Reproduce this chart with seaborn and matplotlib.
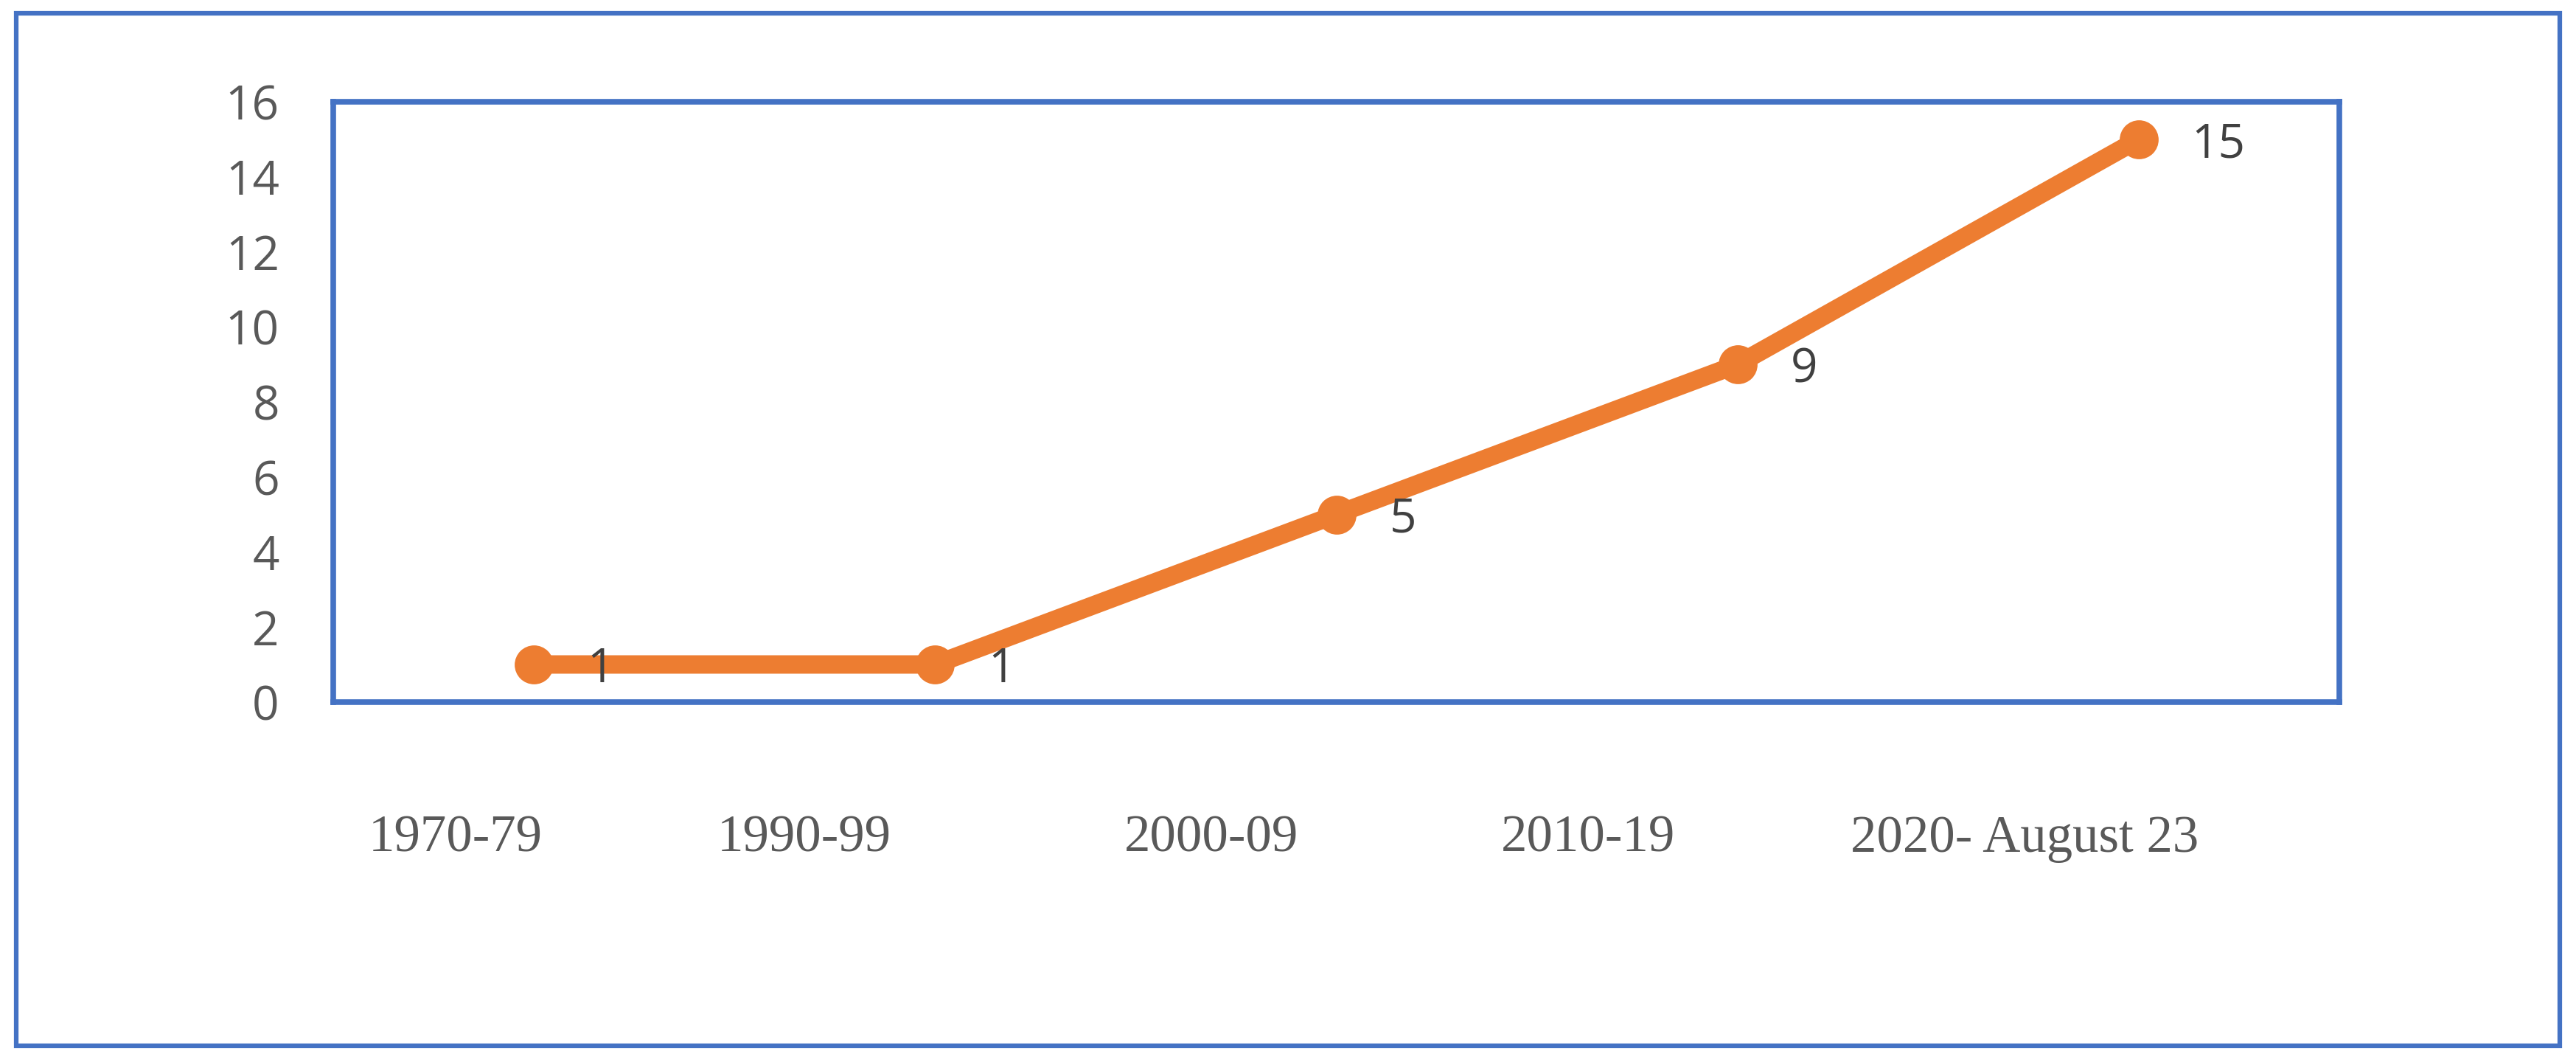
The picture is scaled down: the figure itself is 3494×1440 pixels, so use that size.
import matplotlib
matplotlib.use("Agg")
import matplotlib.pyplot as plt
import matplotlib.transforms as mtransforms
from matplotlib.patches import Rectangle
import pandas as pd
import seaborn as sns

periods = ["1970-79", "1990-99", "2000-09", "2010-19", "2020- August 23"]
counts = [1, 1, 5, 9, 15]
y_ticks = [0, 2, 4, 6, 8, 10, 12, 14, 16]

BLUE = "#4472C4"
ORANGE = "#ED7D31"

sns.set_theme(style="white")
plt.rcParams["font.family"] = ["Open Sans", "DejaVu Sans"]


def draw_chart(out_file="out.png"):
    df = pd.DataFrame({"pos": range(len(periods)), "count": counts})

    fig = plt.figure(figsize=(34.94, 14.4), dpi=100)
    ax = fig.add_axes([0.1295, 0.339, 0.9080 - 0.1295, 0.904 - 0.339])

    sns.lineplot(data=df, x="pos", y="count", ax=ax, color=ORANGE,
                 linewidth=18, marker="o", markersize=38,
                 markeredgewidth=0, markerfacecolor=ORANGE)

    ax.set_xlim(-0.5, len(periods) - 0.5)
    ax.set_ylim(y_ticks[0], y_ticks[-1])
    ax.set_yticks(y_ticks)
    ax.set_xticks(range(len(periods)))
    ax.set_xticklabels(periods, family="Liberation Serif", fontsize=51,
                       color="#595959")
    ax.tick_params(axis="x", length=0, pad=110)
    ax.tick_params(axis="y", length=0, pad=53, labelsize=46,
                   labelcolor="#595959")
    ax.set_xlabel("")
    ax.set_ylabel("")

    # the category labels sit a bit left of their points in the original
    shifts = [-77, -128, -122, -146, -111]
    for lab, dx in zip(ax.get_xticklabels(), shifts):
        lab.set_transform(lab.get_transform() +
                          mtransforms.ScaledTranslation(dx / 72, 0, fig.dpi_scale_trans))

    for spine in ax.spines.values():
        spine.set_visible(True)
        spine.set_color(BLUE)
        spine.set_linewidth(5.5)

    for x, y in zip(df["pos"], df["count"]):
        ax.annotate(str(y), (x, y), xytext=(52, -5), textcoords="offset points",
                    ha="left", va="center", fontsize=46, color="#404040")

    fig.patches.append(Rectangle((0.0064, 0.0155), 0.9872, 0.9721,
                                 transform=fig.transFigure, fill=False,
                                 edgecolor=BLUE, linewidth=4.5))

    fig.savefig(out_file, dpi=100)
    plt.close(fig)
    return fig


draw_chart()
